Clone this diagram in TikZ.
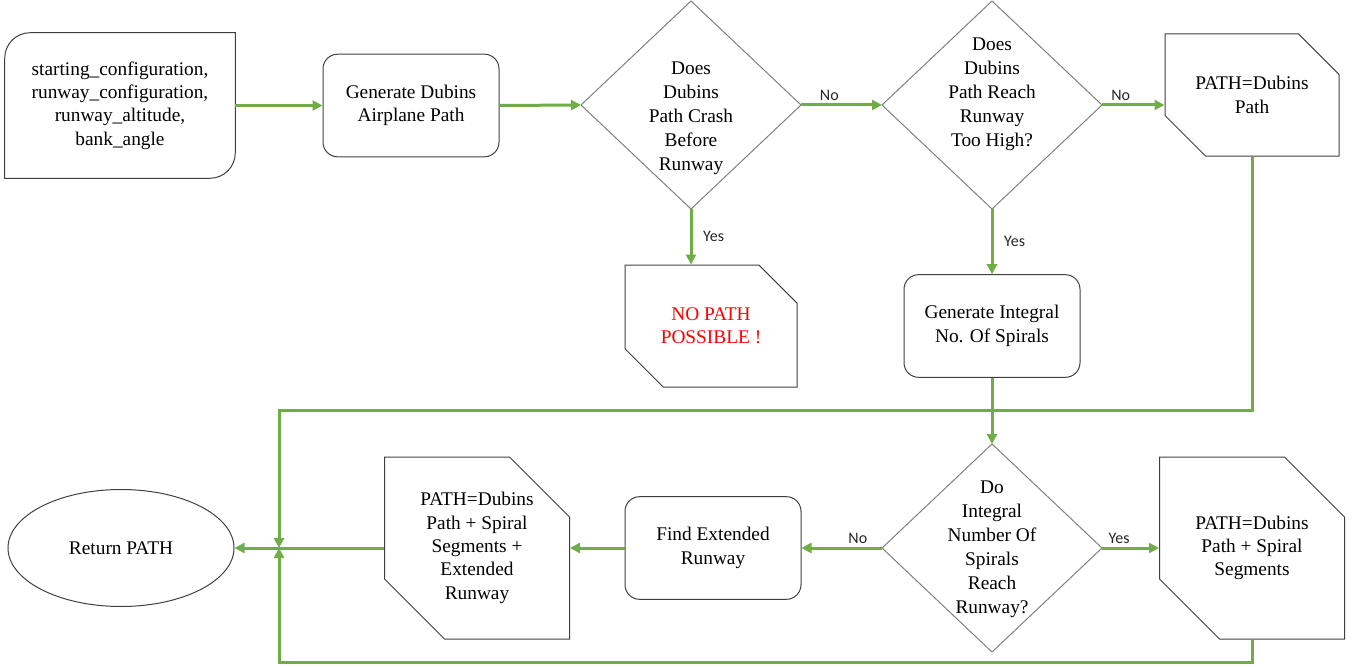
\documentclass[tikz,border=0pt]{standalone}
\usepackage{fontspec}
\setmainfont{Liberation Serif}
\newfontfamily\lblfont{Carlito}
\usetikzlibrary{shapes.geometric,shapes.misc,arrows.meta}

\definecolor{flowgreen}{RGB}{112,173,71}
\definecolor{edgegray}{RGB}{64,64,64}

\tikzset{
    txtfont/.style={font=\fontsize{14.5}{17.5}\selectfont},
    box/.style={draw=edgegray, line width=0.75pt, rounded corners=11pt,
        minimum width=132pt, minimum height=77pt, align=center, txtfont},
    snip/.style={draw=edgegray, line width=0.75pt, chamfered rectangle,
        chamfered rectangle corners={north east,south west},
        align=center, inner sep=0pt, txtfont},
    decision/.style={draw=black!50, line width=0.75pt, diamond,
        minimum width=165pt, minimum height=156pt, inner sep=0pt, outer sep=0pt},
    qtext/.style={align=center, inner sep=0pt, font=\fontsize{14.5}{18}\selectfont},
    flow/.style={draw=flowgreen, line width=2.25pt, -{Triangle[length=7.5pt,width=7.5pt]}},
    lbl/.style={font=\lblfont\fontsize{12}{14}\selectfont, text=black!85, inner sep=2pt},
}

\begin{document}
\begin{tikzpicture}[x=0.75pt, y=-0.75pt]
    \useasboundingbox (0,0) rectangle (1364,667);

    % inputs
    \node[minimum width=172.5pt, minimum height=108.75pt, align=center, txtfont] (start) at (120,105.5)
        {starting\_configuration,\\runway\_configuration,\\runway\_altitude,\\bank\_angle};
    \draw[draw=edgegray, line width=0.75pt]
        (start.north east) -- ([xshift=19pt]start.north west)
        arc[start angle=90, end angle=180, radius=19pt] -- (start.south west)
        -- ([xshift=-19pt]start.south east)
        arc[start angle=270, end angle=360, radius=19pt] -- cycle;

    \node[box] (gen) at (411,105.5) {Generate Dubins\\Airplane Path};

    % first two checks
    \node[decision] (d1) at (691,105) {};
    \node[qtext] (d1t) at (691,118) {Does\\Dubins\\Path Crash\\Before\\Runway};
    \node[decision] (d2) at (992,105) {};
    \node[qtext] (d2t) at (992,94) {Does\\Dubins\\Path Reach\\Runway\\Too High?};

    \node[snip, minimum width=130.5pt, minimum height=91.5pt,
        chamfered rectangle xsep=16.5pt, chamfered rectangle ysep=16.5pt] (p1) at (1252,95)
        {PATH=Dubins\\Path};
    \node[snip, minimum width=129pt, minimum height=91.5pt, text=red,
        chamfered rectangle xsep=15pt, chamfered rectangle ysep=15pt] (nopath) at (711,326)
        {NO PATH\\POSSIBLE !};
    \node[box] (spir) at (992,326) {Generate Integral\\No. Of Spirals};

    % spiral check
    \node[decision] (d3) at (992,548) {};
    \node[qtext] (d3t) at (992,549) {Do\\Integral\\Number Of\\Spirals\\Reach\\Runway?};
    \node[snip, minimum width=138.75pt, minimum height=136.5pt,
        chamfered rectangle xsep=22.5pt, chamfered rectangle ysep=22.5pt] (p2) at (1252,548)
        {PATH=Dubins\\Path + Spiral\\Segments};
    \node[box] (ext) at (713,548) {Find Extended\\Runway};
    \node[snip, minimum width=138.75pt, minimum height=136.5pt,
        chamfered rectangle xsep=22.5pt, chamfered rectangle ysep=22.5pt] (p3) at (477,548)
        {PATH=Dubins\\Path + Spiral\\Segments +\\Extended\\Runway};
    \node[draw=edgegray, line width=0.75pt, ellipse, minimum width=169.5pt,
        minimum height=87.75pt, txtfont] (ret) at (121,548) {Return PATH};

    \coordinate (join) at (279,548);
    \coordinate (topbus) at (279,410);
    \coordinate (botbus) at (279,662);

    % connectors
    \draw[flow] (start.east |- gen.west) -- (gen.west);
    \draw[flow] (gen.east) -- (d1.west);
    \draw[flow] (d1.east) -- node[lbl, above, pos=0.35] {No} (d2.west);
    \draw[flow] (d2.east) -- node[lbl, above, pos=0.3] {No} (d2.east -| p1.west);
    \draw[flow] (d1.south) -- node[lbl, right=6pt, midway] {Yes} (d1.south |- nopath.north);
    \draw[flow] (d2.south) -- node[lbl, right=6pt, midway] {Yes} (spir.north);
    \draw[flow] (spir.south) -- (d3.north);
    \draw[flow] (d3.west) -- node[lbl, above, pos=0.3] {No} (ext.east);
    \draw[flow] (d3.east) -- node[lbl, above, pos=0.3] {Yes} (p2.west);
    \draw[flow] (ext.west) -- (p3.east);
    \draw[flow] (p3.west) -- (ret.east);
    \draw[flow] (p1.south) |- (topbus) -- (join);
    \draw[flow] (p2.south) |- (botbus) -- (join);
\end{tikzpicture}
\end{document}
